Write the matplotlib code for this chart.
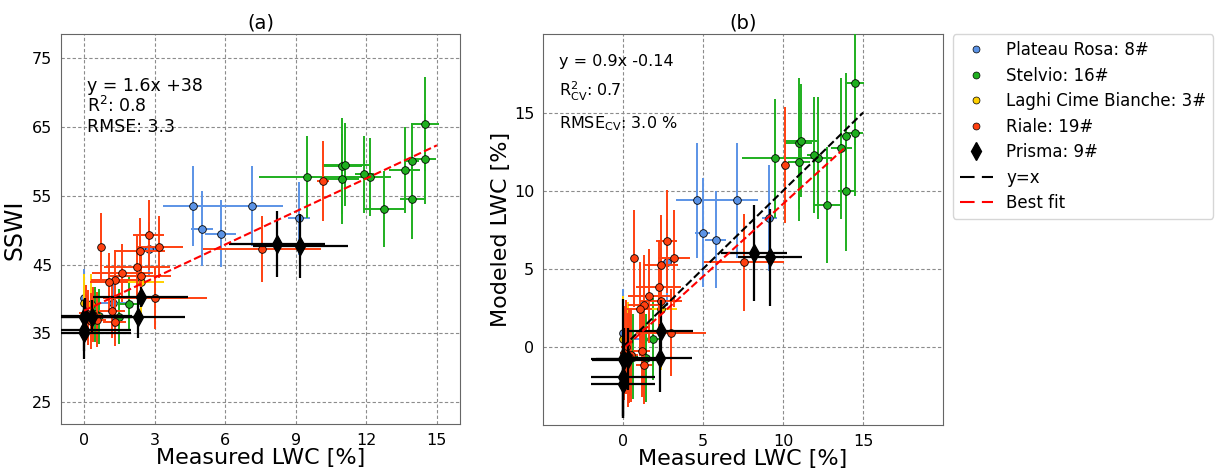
import matplotlib.pyplot as plt
from matplotlib.lines import Line2D

# site data: measured LWC, its error, SSWI (a), its error, modeled LWC (b), its error
pr_x = [4.65, 7.15, 5.0, 9.15, 5.8, 2.77, 1.25, 0.0]
pr_xerr = [1.3, 1.3, 0.47, 0.46, 0.65, 0.3, 0.6, 0.1]
pr_sswi = [53.5, 53.5, 50.2, 51.7, 49.5, 47.2, 39.4, 40.1]
pr_sswi_err = [5.8, 5.8, 5.4, 5.3, 4.9, 3.9, 3.5, 4.3]
pr_mod = [9.38, 9.38, 7.32, 8.27, 6.87, 5.42, 0.51, 0.93]
pr_mod_err = [3.7, 3.7, 3.5, 3.4, 3.1, 2.8, 2.5, 2.8]

st_x = [14.48, 14.48, 13.93, 13.63, 13.93, 12.74, 12.16, 11.92, 10.98, 11.11, 10.98, 9.48, 1.91, 1.48, 0.64, 0.45]
st_xerr = [0.6, 0.5, 0.3, 0.65, 0.5, 0.88, 0.88, 0.4, 0.85, 1.0, 0.7, 2.05, 0.5, 0.3, 0.3, 0.2]
st_sswi = [65.4, 60.3, 60.0, 58.7, 54.5, 53.0, 57.7, 58.1, 59.3, 59.5, 57.4, 57.7, 39.3, 37.4, 37.5, 37.8]
st_sswi_err = [6.8, 6.5, 5.5, 6.2, 5.8, 5.5, 5.6, 5.6, 7.0, 6.0, 6.5, 5.9, 4.0, 4.0, 4.0, 4.0]
st_mod = [16.91, 13.68, 13.5, 12.72, 9.97, 9.08, 12.08, 12.3, 13.04, 13.2, 11.85, 12.08, 0.51, -0.68, -0.6, -0.5]
st_mod_err = [4.0, 4.0, 4.0, 4.5, 3.8, 3.7, 3.9, 3.7, 4.2, 3.6, 3.8, 3.8, 2.6, 2.8, 2.7, 2.6]

lc_x = [0.0, 0.3, 2.4]
lc_xerr = [0.1, 0.1, 1.0]
lc_sswi = [39.4, 39.3, 42.4]
lc_sswi_err = [4.2, 4.3, 4.6]
lc_mod = [0.49, 0.4, 2.44]
lc_mod_err = [2.8, 2.5, 3.9]

ri_x = [10.15, 7.56, 0.73, 2.74, 3.2, 2.36, 2.25, 1.63, 1.31, 1.05, 2.4, 3.02, 1.17, 1.3, 0.53, 0.4, 0.17, 0.1, 0.3]
ri_xerr = [0.25, 2.5, 0.15, 0.64, 1.0, 1.1, 1.4, 1.3, 1.0, 0.8, 1.3, 2.2, 0.55, 0.5, 0.4, 0.3, 0.3, 0.3, 0.3]
ri_sswi = [57.1, 47.2, 47.6, 49.3, 47.6, 46.9, 44.7, 43.8, 42.8, 42.4, 43.3, 40.1, 38.3, 36.7, 37.0, 37.7, 37.3, 38.0, 36.8]
ri_sswi_err = [5.8, 4.8, 4.9, 5.1, 4.5, 4.8, 4.5, 4.2, 4.3, 4.3, 4.2, 4.5, 4.0, 3.5, 4.0, 4.0, 4.0, 4.0, 4.0]
ri_mod = [11.63, 5.44, 5.68, 6.76, 5.68, 5.25, 3.87, 3.25, 2.7, 2.44, 2.93, 0.93, -0.22, -1.13, -0.5, -0.6, 0.0, -0.4, -0.8]
ri_mod_err = [3.7, 3.1, 3.1, 3.3, 3.1, 3.2, 3.0, 3.0, 3.2, 3.0, 3.0, 2.8, 3.0, 2.5, 3.0, 3.0, 3.0, 3.0, 3.0]

ps_x = [8.2, 9.2, 2.4, 2.3, 0.0, 0.33, 0.0, 0.0, 0.05]
ps_xerr = [2.05, 2.0, 2.0, 2.0, 2.0, 2.0, 2.0, 2.0, 2.0]
ps_sswi = [48.0, 47.7, 40.3, 37.4, 37.4, 37.4, 35.5, 35.0, 37.6]
ps_sswi_err = [4.8, 4.6, 1.5, 3.0, 2.5, 2.5, 3.0, 3.7, 2.5]
ps_mod = [6.02, 5.74, 1.02, -0.7, -0.75, -0.75, -1.9, -2.34, -0.8]
ps_mod_err = [3.05, 3.1, 2.0, 2.2, 3.8, 2.0, 2.5, 2.2, 2.0]

labels = ['Plateau Rosa: 8#', 'Stelvio: 16#', 'Laghi Cime Bianche: 3#', 'Riale: 19#', 'Prisma: 9#']
colors = ['#5B93E6', '#1FAF1F', '#FFD000', '#FF4010', 'black']

# fit lines (slope, intercept, x range)
fit_a = (1.6, 38.3, 0.0, 15.0)
fit_b = (0.93, -0.14, 0.2, 13.8)

sites = [
    (pr_x, pr_xerr, pr_sswi, pr_sswi_err, pr_mod, pr_mod_err),
    (st_x, st_xerr, st_sswi, st_sswi_err, st_mod, st_mod_err),
    (lc_x, lc_xerr, lc_sswi, lc_sswi_err, lc_mod, lc_mod_err),
    (ri_x, ri_xerr, ri_sswi, ri_sswi_err, ri_mod, ri_mod_err),
    (ps_x, ps_xerr, ps_sswi, ps_sswi_err, ps_mod, ps_mod_err),
]

fig = plt.figure(figsize=(12.23, 4.71), dpi=100)
ax1 = fig.add_axes([0.0495, 0.099, 0.327, 0.828])
ax2 = fig.add_axes([0.4437, 0.097, 0.3276, 0.830])

for i, (x, xe, ya, yea, yb, yeb) in enumerate(sites):
    c = colors[i]
    if i == 4:
        kw = dict(fmt='d', ms=9, mfc='k', mec='k', elinewidth=1.6)
    else:
        kw = dict(fmt='o', ms=5.5, mfc=c, mec='k', mew=0.6, elinewidth=1.4)
    ax1.errorbar(x, ya, xerr=xe, yerr=yea, color=c, capsize=0, zorder=3 + i, **kw)
    ax2.errorbar(x, yb, xerr=xe, yerr=yeb, color=c, capsize=0, zorder=3 + i, **kw)

# fit lines
ax1.plot([fit_a[2], fit_a[3]], [fit_a[0] * fit_a[2] + fit_a[1], fit_a[0] * fit_a[3] + fit_a[1]],
         color='red', ls='--', lw=1.5, zorder=10)
ax2.plot([0, 15], [0, 15], color='k', ls='--', lw=1.5, zorder=10)
ax2.plot([fit_b[2], fit_b[3]], [fit_b[0] * fit_b[2] + fit_b[1], fit_b[0] * fit_b[3] + fit_b[1]],
         color='red', ls='--', lw=1.5, zorder=10)

# axes styling
ax1.set_xlim(-1, 16)
ax1.set_ylim(21.8, 78.4)
ax1.set_xticks([0, 3, 6, 9, 12, 15])
ax1.set_yticks([25, 35, 45, 55, 65, 75])
ax2.set_xlim(-5, 20)
ax2.set_ylim(-5, 20)
ax2.set_xticks([0, 5, 10, 15])
ax2.set_yticks([0, 5, 10, 15])

for ax in (ax1, ax2):
    ax.grid(True, color='0.55', ls=(0, (3, 2)), lw=0.8)
    ax.set_axisbelow(True)
    ax.tick_params(labelsize=11.5, length=0, pad=6)
    for s in ax.spines.values():
        s.set_color('0.4')
    ax.set_xlabel('Measured LWC [%]', fontsize=16, labelpad=0)

ax1.set_ylabel('SSWI', fontsize=17)
ax2.set_ylabel('Modeled LWC [%]', fontsize=16, labelpad=2)
ax1.set_title('(a)', fontsize=14, pad=4)
ax2.set_title('(b)', fontsize=14, pad=4)

# annotations
ax1.text(0.065, 0.854, 'y = 1.6x +38', transform=ax1.transAxes, fontsize=12.5)
ax1.text(0.065, 0.801, r'R$^2$: 0.8', transform=ax1.transAxes, fontsize=12.5)
ax1.text(0.065, 0.749, 'RMSE: 3.3', transform=ax1.transAxes, fontsize=12.5)
ax2.text(0.041, 0.919, 'y = 0.9x -0.14', transform=ax2.transAxes, fontsize=11.5)
ax2.text(0.041, 0.842, r'R$^2_{\mathrm{CV}}$: 0.7', transform=ax2.transAxes, fontsize=11.5)
ax2.text(0.041, 0.761, r'RMSE$_{\mathrm{CV}}$: 3.0 %', transform=ax2.transAxes, fontsize=11.5)

# legend
handles = []
for i in range(4):
    handles.append(Line2D([], [], marker='o', ls='', ms=5, mfc=colors[i], mec='k', mew=0.5))
handles.append(Line2D([], [], marker='d', ls='', ms=9, color='k'))
handles.append(Line2D([], [], color='k', ls=(0, (7, 3.5)), lw=1.5))
handles.append(Line2D([], [], color='red', ls=(0, (7, 3.5)), lw=1.5))
ax2.legend(handles, labels + ['y=x', 'Best fit'], loc='upper left', bbox_to_anchor=(1.024, 1.0),
           borderaxespad=0, fontsize=12, labelspacing=0.45, handlelength=2.0)

plt.savefig('out.png', dpi=100)
